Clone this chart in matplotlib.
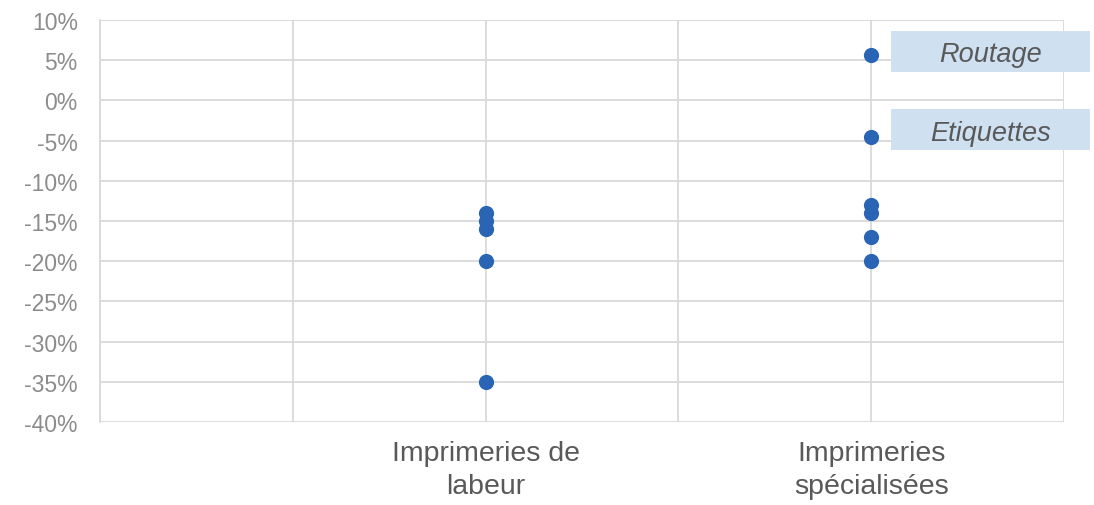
import matplotlib
matplotlib.use("Agg")
import matplotlib.pyplot as plt
from matplotlib.patches import Rectangle
from matplotlib.transforms import Affine2D, ScaledTranslation
from matplotlib.ticker import FixedLocator, PercentFormatter

plt.rcParams['font.family'] = ['Liberation Sans', 'DejaVu Sans']
plt.rcParams['axes.unicode_minus'] = False

categories = ["Imprimeries de\nlabeur", "Imprimeries\nspécialisées"]
labeur_values = [-14, -15, -16, -20, -35]
specialisees_values = [5.6, -4.5, -13, -14, -17, -20]
point_labels = ["Routage", "Etiquettes"]
point_label_values = [5.6, -4.5]
# label box placement relative to its point (pixels): box bottom, text baseline
label_offsets = [(-17, -6), (-13, -3)]

cat_positions = [2, 4]
dot_color = "#2A65B5"
grid_color = "#D9D9D9"

fig = plt.figure(figsize=(10.94, 5.06), dpi=100)
ax = fig.add_axes([100 / 1094, 1 - 423 / 506, 964 / 1094, 402 / 506])

ax.set_xlim(0, 5)
ax.set_ylim(-40, 10)

ax.scatter([cat_positions[0]] * len(labeur_values), labeur_values,
           s=120, color=dot_color, zorder=3, linewidths=0)
ax.scatter([cat_positions[1]] * len(specialisees_values), specialisees_values,
           s=120, color=dot_color, zorder=3, linewidths=0)

# Grid
ax.yaxis.set_major_locator(FixedLocator(range(-40, 11, 5)))
ax.yaxis.set_major_formatter(PercentFormatter(decimals=0))
ax.xaxis.set_major_locator(FixedLocator(range(0, 6)))
ax.set_xticklabels(["", "", categories[0], "", categories[1], ""])
ax.grid(True, color=grid_color, linewidth=1.3, zorder=0)
for side in ["top", "right", "bottom"]:
    ax.spines[side].set_visible(False)
ax.spines["left"].set_color(grid_color)
ax.spines["left"].set_linewidth(1.3)

ax.tick_params(axis="y", length=0, pad=16, labelsize=16.5, labelcolor="#8C8C8C")
ax.tick_params(axis="x", length=0, pad=13, labelsize=20.5, labelcolor="#595959")
for lbl in ax.get_xticklabels():
    lbl.set_linespacing(1.36)

# Labelled points
x = cat_positions[1]
for name, val, (box_dy, text_dy) in zip(point_labels, point_label_values, label_offsets):
    trans = Affine2D() + ScaledTranslation(x, val, ax.transData)
    rect = Rectangle((20, box_dy), 199, 41, transform=trans,
                     facecolor="#CFE0F1", edgecolor="none",
                     clip_on=False, zorder=2)
    ax.add_patch(rect)
    ax.annotate(name, xy=(x, val), xytext=(119.5, text_dy),
                textcoords="offset pixels", ha="center", va="baseline",
                fontsize=19.5, style="italic", color="#595959",
                annotation_clip=False, zorder=4)

fig.savefig("out.png", dpi=100)
